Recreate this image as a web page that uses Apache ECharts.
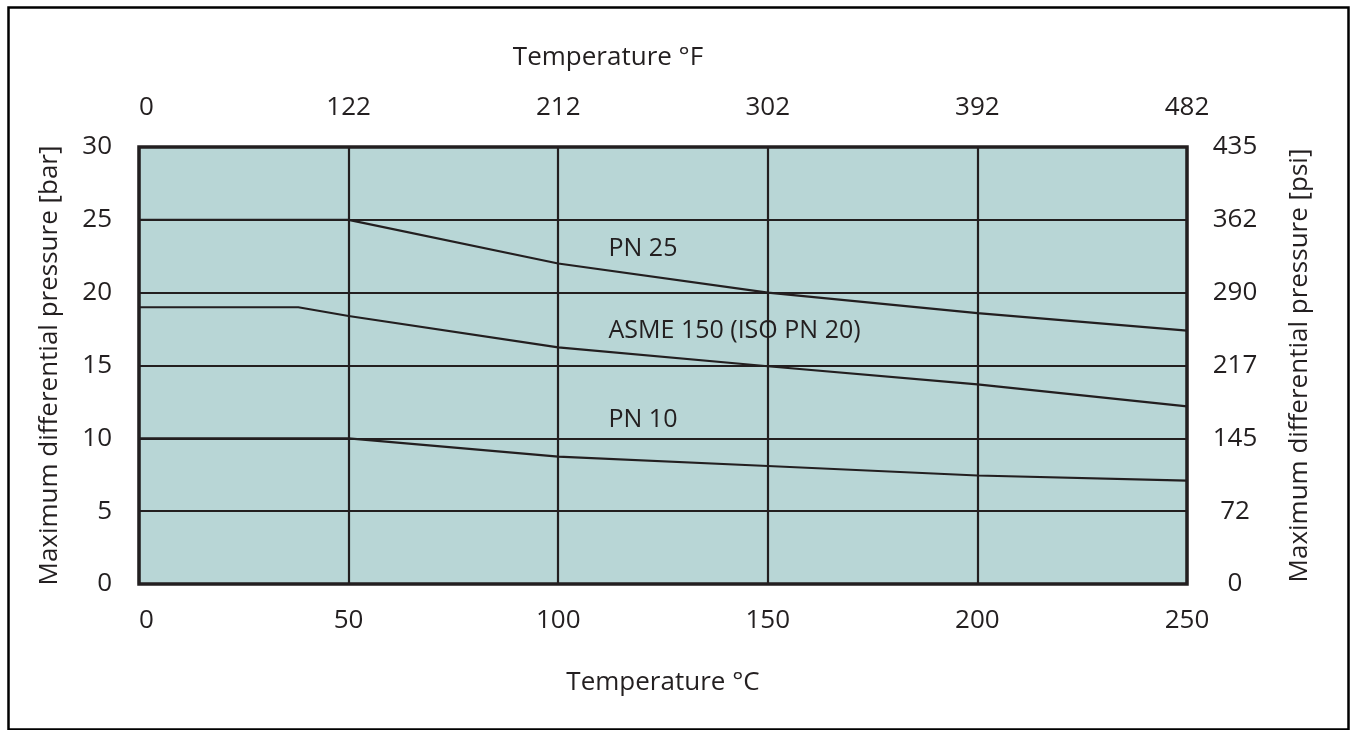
<!DOCTYPE html>
<html>
<head>
<meta charset="utf-8">
<script src="https://cdn.jsdelivr.net/npm/echarts@6/dist/echarts.min.js"></script>
<style>
html,body{margin:0;padding:0;background:#fff;}
#chart{width:1350px;height:730px;}
</style>
</head>
<body>
<div id="chart"></div>
<script>
const tempC = [0, 38, 50, 100, 150, 200, 250];
const pn25 = [25, 25, 25, 22, 20, 18.6, 17.4];
const asme150 = [19, 19, 18.4, 16.25, 14.95, 13.7, 12.2];
const pn10 = [10, 10, 10, 8.75, 8.1, 7.45, 7.1];
const fahrenheitLabels = ['0', '122', '212', '302', '392', '482'];
const psiLabels = ['0', '72', '145', '217', '290', '362', '435'];
const curveNames = ['PN 25', 'ASME 150 (ISO PN 20)', 'PN 10'];
const curveLabelAt = [[112, 23], [112, 17.4], [112, 11.3]];

const INK = '#231f20';
const FONT = 'Open Sans';
const FS = 26;

function pairs(xs, ys) { return xs.map((x, i) => [x, ys[i]]); }

const lineStyle = { color: INK, width: 2.2 };
function curve(name, ys) {
  return {
    name: name, type: 'line', xAxisIndex: 0, yAxisIndex: 0,
    data: pairs(tempC, ys), symbol: 'none', lineStyle: lineStyle,
    silent: true, z: 3
  };
}

const chart = echarts.init(document.getElementById('chart'));
chart.setOption({
  animation: false,
  backgroundColor: '#ffffff',
  textStyle: { fontFamily: FONT, color: INK },
  grid: {
    left: 139, right: 163, top: 147, bottom: 146,
    show: true, backgroundColor: '#b8d6d6', borderColor: INK, borderWidth: 3.5
  },
  xAxis: [
    {
      type: 'value', position: 'bottom', min: 0, max: 250, interval: 50,
      name: 'Temperature °C', nameLocation: 'middle', nameGap: 86,
      nameTextStyle: { fontFamily: FONT, fontSize: FS, color: INK },
      axisLine: { show: false }, axisTick: { show: false },
      axisLabel: { fontFamily: FONT, fontSize: FS, color: INK, margin: 24, alignMinLabel: 'left' },
      splitLine: { show: true, lineStyle: { color: INK, width: 2.2 } }
    },
    {
      type: 'value', position: 'top', min: 0, max: 250, interval: 50,
      axisLine: { show: false }, axisTick: { show: false },
      axisLabel: {
        fontFamily: FONT, fontSize: FS, color: INK, margin: 26, alignMinLabel: 'left',
        formatter: v => fahrenheitLabels[Math.round(v / 50)]
      },
      splitLine: { show: false }
    }
  ],
  yAxis: [
    {
      type: 'value', position: 'left', min: 0, max: 30, interval: 5,
      name: 'Maximum differential pressure [bar]', nameLocation: 'middle', nameRotate: 90, nameGap: 76,
      nameTextStyle: { fontFamily: FONT, fontSize: FS, color: INK },
      axisLine: { show: false }, axisTick: { show: false },
      axisLabel: { fontFamily: FONT, fontSize: FS, color: INK, margin: 27 },
      splitLine: { show: true, lineStyle: { color: INK, width: 2.2 } }
    },
    {
      type: 'value', position: 'right', min: 0, max: 30, interval: 5,
      name: 'Maximum differential pressure [psi]', nameLocation: 'middle', nameRotate: 90, nameGap: 100,
      nameTextStyle: { fontFamily: FONT, fontSize: FS, color: INK },
      axisLine: { show: false }, axisTick: { show: false },
      axisLabel: {
        fontFamily: FONT, fontSize: FS, color: INK, margin: 48, align: 'center',
        formatter: v => psiLabels[Math.round(v / 5)]
      },
      splitLine: { show: false }
    }
  ],
  graphic: [
    {
      type: 'rect', left: 6, top: 5, silent: true, z: 100,
      shape: { width: 1340, height: 722 },
      style: { fill: 'none', stroke: '#000', lineWidth: 2.5 }
    },
    {
      type: 'text', silent: true,
      style: {
        x: 608, y: 58, text: 'Temperature °F', textAlign: 'center', textVerticalAlign: 'middle',
        font: FS + 'px "' + FONT + '"', fill: INK
      }
    }
  ],
  series: [
    curve(curveNames[0], pn25),
    curve(curveNames[1], asme150),
    curve(curveNames[2], pn10),
    {
      type: 'scatter', xAxisIndex: 0, yAxisIndex: 0, silent: true, symbolSize: 0, z: 4,
      data: curveLabelAt.map((p, i) => [p[0], p[1], curveNames[i]]),
      label: {
        show: true, position: 'right', distance: 0,
        fontFamily: FONT, fontSize: 25, color: INK, opacity: 1,
        formatter: p => p.value[2]
      }
    }
  ]
});
</script>
</body>
</html>
